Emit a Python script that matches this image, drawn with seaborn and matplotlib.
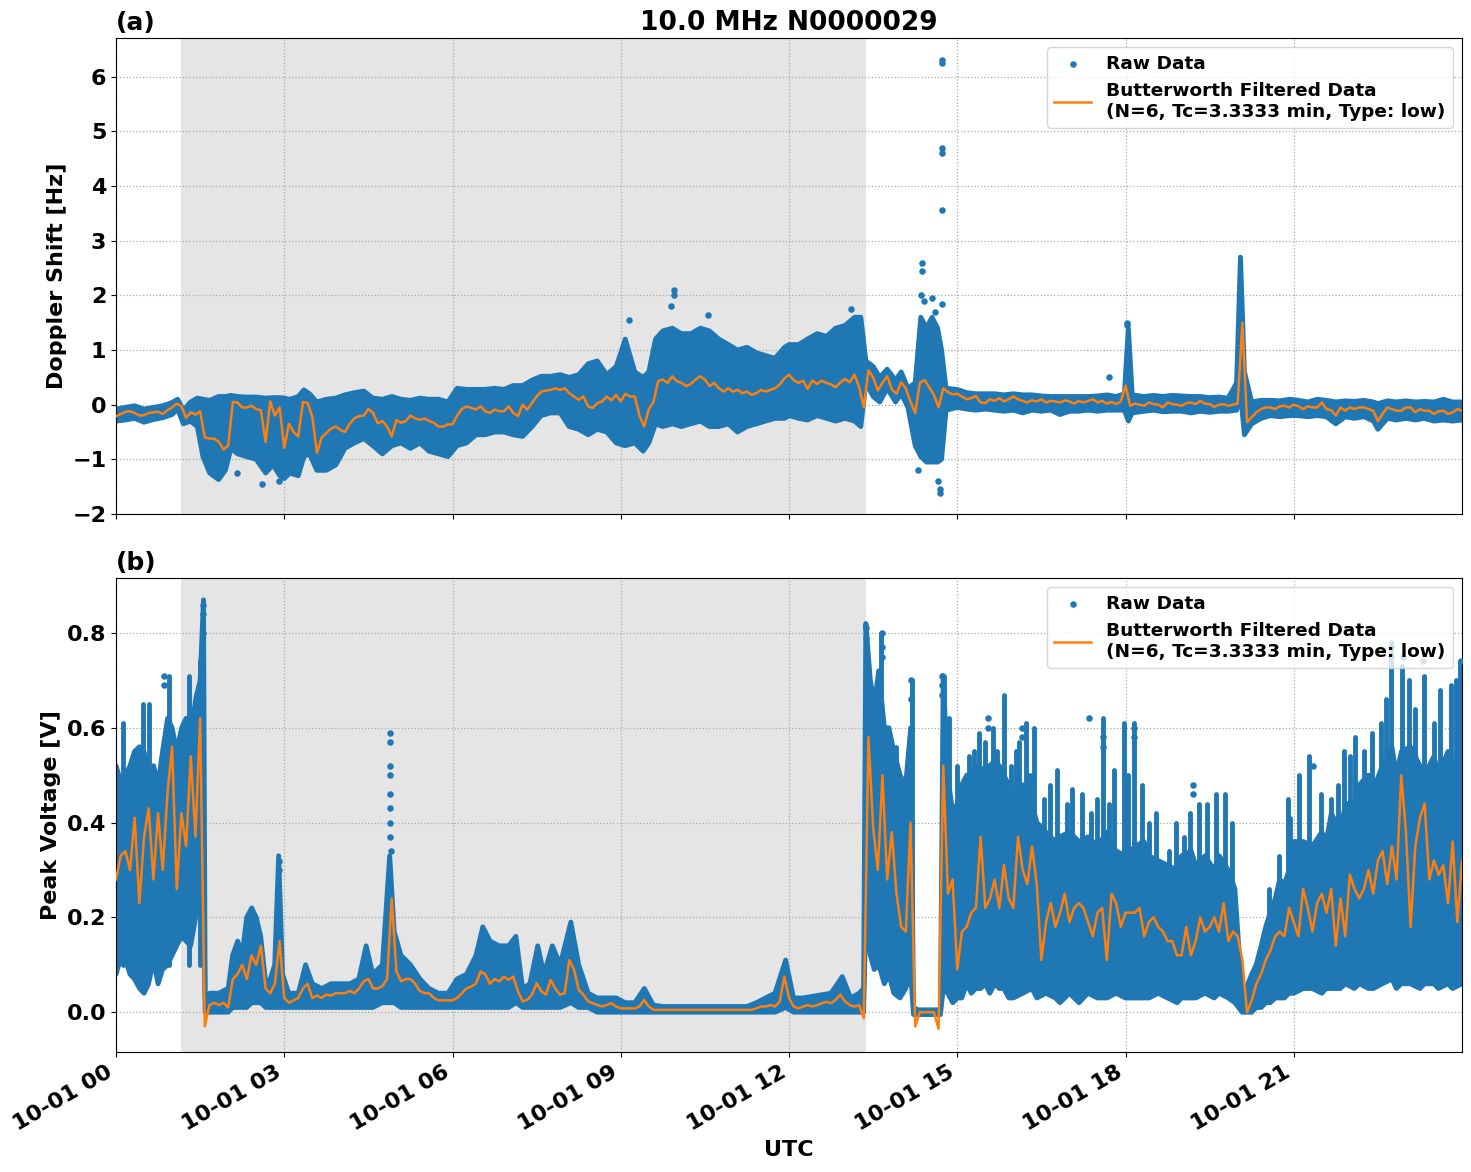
import numpy as np
import pandas as pd
import matplotlib
matplotlib.use("Agg")
import matplotlib.pyplot as plt
import matplotlib.dates as mdates
from matplotlib.ticker import FormatStrFormatter
import seaborn as sns

# ---------------- data (hours after 00:00 UTC, 1 October) ----------------
shade_hours = [1.16, 13.37]

# Doppler shift: envelope of the raw-data cloud
dop_hours = [0.00,0.17,0.33,0.50,0.67,0.83,1.00,1.10,1.20,1.33,
             1.45,1.55,1.67,1.83,1.95,2.05,2.17,2.33,2.50,2.67,
             2.80,2.92,3.00,3.10,3.25,3.35,3.45,3.58,3.75,3.92,
             4.08,4.25,4.42,4.58,4.75,4.92,5.08,5.25,5.42,5.58,
             5.75,5.92,6.08,6.25,6.42,6.58,6.75,6.92,7.08,7.25,
             7.42,7.58,7.75,7.92,8.08,8.25,8.42,8.58,8.75,8.92,
             9.08,9.25,9.40,9.50,9.62,9.75,9.92,10.08,10.25,10.42,
             10.58,10.75,10.92,11.08,11.25,11.42,11.58,11.75,11.92,12.00,
             12.17,12.33,12.50,12.67,12.83,13.00,13.17,13.28,13.37,13.50,
             13.62,13.75,13.90,14.00,14.12,14.25,14.35,14.45,14.55,14.65,
             14.72,14.80,15.00,15.17,15.33,15.50,15.67,15.83,16.00,16.17,
             16.33,16.50,16.67,16.83,17.00,17.17,17.33,17.50,17.67,17.83,
             17.98,18.05,18.12,18.33,18.50,18.67,18.83,19.00,19.17,19.33,
             19.50,19.67,19.83,19.98,20.05,20.12,20.25,20.42,20.58,20.75,
             20.92,21.08,21.25,21.42,21.58,21.75,21.92,22.08,22.25,22.42,
             22.50,22.67,22.83,23.00,23.17,23.33,23.50,23.67,23.83,24.00]
dop_low = [-0.30,-0.28,-0.25,-0.32,-0.27,-0.24,-0.18,-0.08,-0.35,-0.30,
           -0.40,-0.95,-1.25,-1.37,-1.20,-0.80,-0.90,-0.95,-1.00,-1.25,
           -1.10,-1.30,-1.35,-1.25,-1.30,-0.95,-0.90,-1.20,-1.20,-1.10,
           -0.80,-0.70,-0.62,-0.75,-0.90,-0.75,-0.70,-0.80,-0.70,-0.85,
           -0.90,-0.95,-0.75,-0.70,-0.55,-0.55,-0.50,-0.50,-0.55,-0.58,
           -0.40,-0.20,-0.15,-0.15,-0.40,-0.45,-0.55,-0.45,-0.50,-0.70,
           -0.75,-0.70,-0.85,-0.70,-0.35,-0.40,-0.35,-0.40,-0.35,-0.30,
           -0.40,-0.40,-0.35,-0.50,-0.40,-0.35,-0.30,-0.25,-0.25,-0.20,
           -0.25,-0.28,-0.20,-0.25,-0.30,-0.25,-0.30,-0.40,0.40,0.15,
           0.05,0.30,0.05,0.20,-0.05,-0.75,-0.95,-1.05,-1.05,-1.05,
           -1.00,-0.10,-0.05,-0.08,-0.10,-0.08,-0.10,-0.12,-0.10,-0.15,
           -0.10,-0.12,-0.10,-0.18,-0.12,-0.12,-0.10,-0.12,-0.10,-0.10,
           -0.10,-0.30,-0.15,-0.12,-0.10,-0.13,-0.12,-0.12,-0.15,-0.12,
           -0.14,-0.12,-0.12,-0.10,0.20,-0.55,-0.35,-0.25,-0.20,-0.22,
           -0.20,-0.20,-0.22,-0.20,-0.22,-0.35,-0.22,-0.25,-0.22,-0.30,
           -0.45,-0.25,-0.28,-0.25,-0.28,-0.25,-0.30,-0.28,-0.30,-0.28]
dop_high = [-0.08,-0.05,-0.02,-0.08,-0.05,-0.02,0.04,0.10,-0.10,0.05,
            0.12,0.10,0.08,0.15,0.15,0.17,0.15,0.14,0.14,0.12,
            0.13,0.13,0.12,0.10,0.15,0.27,0.20,0.05,0.10,0.12,
            0.18,0.22,0.25,0.12,0.10,0.15,0.10,0.08,0.12,0.10,
            0.10,0.05,0.30,0.28,0.28,0.28,0.30,0.28,0.35,0.35,
            0.45,0.52,0.52,0.55,0.50,0.55,0.75,0.80,0.55,0.70,
            1.20,0.60,0.50,0.60,1.20,1.35,1.40,1.30,1.30,1.40,
            1.35,1.20,1.10,1.00,1.05,0.95,0.90,0.85,1.05,1.10,
            1.10,1.20,1.30,1.25,1.40,1.45,1.60,1.60,0.80,0.70,
            0.50,0.65,0.45,0.60,0.30,0.40,1.60,1.40,1.60,1.40,
            1.00,0.30,0.28,0.22,0.20,0.20,0.20,0.18,0.20,0.18,
            0.18,0.16,0.15,0.15,0.15,0.15,0.15,0.16,0.18,0.15,
            0.20,1.40,0.18,0.15,0.17,0.15,0.17,0.16,0.15,0.15,
            0.13,0.14,0.12,0.40,2.70,0.60,0.05,0.08,0.08,0.07,
            0.10,0.08,0.05,0.10,0.08,0.05,0.07,0.06,0.08,0.05,
            0.02,0.07,0.05,0.07,0.05,0.06,0.05,0.10,0.05,0.05]
dop_out_hours = [14.72,14.72,14.72,14.72,14.72,14.38,14.38,14.35,14.40,14.55,14.72,14.60,
                 14.65,14.70,14.70,14.30,9.95,9.95,9.90,10.55,13.10,18.03,18.03,17.70,
                 2.60,2.90,2.15,9.15]
dop_out_vals = [6.30,6.25,4.70,4.60,3.57,2.60,2.45,2.00,1.90,1.95,1.85,1.70,
                -1.40,-1.55,-1.62,-1.20,2.10,2.00,1.80,1.65,1.75,1.50,1.45,0.50,
                -1.45,-1.40,-1.25,1.55]
# Doppler shift: Butterworth filtered series, one value per 5 minutes (00:00 ... 24:00)
dop_filt = [
    -0.21,-0.17,-0.13,-0.12,-0.15,-0.20,-0.19,-0.15,-0.14,-0.13,-0.17,-0.10,
    -0.05,0.02,-0.03,-0.24,-0.14,-0.18,-0.12,-0.60,-0.62,-0.62,-0.68,-0.82,
    -0.75,0.05,0.04,-0.05,-0.05,-0.02,-0.08,-0.10,-0.68,0.06,-0.20,-0.05,
    -0.79,-0.35,-0.50,-0.58,0.05,0.03,-0.22,-0.88,-0.60,-0.52,-0.44,-0.40,
    -0.46,-0.50,-0.35,-0.25,-0.21,-0.20,-0.08,-0.15,-0.34,-0.30,-0.40,-0.58,
    -0.28,-0.33,-0.30,-0.20,-0.25,-0.28,-0.25,-0.30,-0.33,-0.40,-0.40,-0.36,
    -0.36,-0.20,-0.08,-0.03,-0.06,-0.09,-0.03,-0.12,-0.15,-0.09,-0.12,-0.12,
    -0.03,-0.15,-0.21,0.00,-0.09,0.03,0.15,0.24,0.26,0.27,0.30,0.27,
    0.30,0.21,0.15,0.09,0.15,-0.03,-0.06,0.03,0.06,0.15,0.08,0.18,
    0.06,0.20,0.15,0.15,-0.20,-0.40,-0.08,0.05,0.43,0.46,0.40,0.52,
    0.43,0.40,0.34,0.38,0.46,0.52,0.46,0.34,0.40,0.30,0.24,0.30,
    0.24,0.27,0.21,0.24,0.18,0.21,0.27,0.24,0.27,0.30,0.37,0.48,
    0.55,0.45,0.40,0.44,0.29,0.44,0.38,0.44,0.40,0.37,0.32,0.41,
    0.47,0.41,0.55,0.32,-0.05,0.63,0.50,0.26,0.40,0.52,0.28,0.20,
    0.41,0.30,0.05,-0.15,0.40,0.45,0.32,0.18,-0.05,0.30,0.23,0.19,
    0.20,0.15,0.10,0.12,0.16,0.04,0.03,0.10,0.07,0.12,0.06,0.10,
    0.15,0.10,0.07,0.04,0.08,0.06,0.10,0.04,0.07,0.06,0.04,0.08,
    0.06,0.02,0.07,0.04,0.07,0.10,0.04,0.07,0.02,0.05,0.01,0.06,
    0.35,-0.02,0.02,0.00,-0.02,0.04,0.01,0.00,-0.05,0.04,0.01,0.00,
    -0.02,0.03,0.04,0.01,0.07,0.02,0.01,-0.04,0.00,0.01,-0.02,0.00,
    0.02,1.50,-0.32,-0.23,-0.14,-0.08,-0.05,-0.05,-0.08,-0.03,-0.02,-0.05,
    0.00,-0.03,-0.08,-0.03,-0.05,-0.05,0.04,-0.08,-0.10,-0.20,-0.05,-0.11,
    -0.05,-0.08,-0.05,-0.05,-0.08,-0.11,-0.30,-0.17,-0.05,-0.08,-0.11,-0.11,
    -0.05,-0.05,-0.14,-0.08,-0.11,-0.11,-0.17,-0.12,-0.11,-0.17,-0.14,-0.08,
    -0.11]

# Peak voltage: envelope of the raw-data cloud
pow_hours = [0.00,0.10,0.17,0.25,0.33,0.42,0.50,0.58,0.67,0.75,
             0.83,0.92,1.00,1.08,1.17,1.25,1.33,1.42,1.50,1.56,
             1.59,1.67,1.83,2.00,2.08,2.17,2.25,2.33,2.42,2.50,
             2.58,2.67,2.75,2.83,2.90,2.97,3.08,3.25,3.38,3.50,
             3.67,3.83,4.00,4.17,4.33,4.46,4.58,4.75,4.88,4.96,
             5.08,5.25,5.42,5.58,5.75,5.92,6.08,6.25,6.42,6.54,
             6.67,6.83,7.00,7.13,7.25,7.38,7.52,7.63,7.78,7.92,
             8.11,8.25,8.42,8.58,8.75,8.92,9.08,9.25,9.42,9.58,
             9.75,10.00,10.25,10.50,10.75,11.00,11.25,11.42,11.58,11.75,
             11.94,12.08,12.25,12.50,12.75,12.95,13.10,13.25,13.33,13.37,
             13.45,13.52,13.60,13.70,13.78,13.87,13.98,14.08,14.17,14.22,
             14.30,14.50,14.70,14.75,14.83,14.92,15.00,15.08,15.17,15.25,
             15.33,15.42,15.50,15.58,15.67,15.75,15.83,15.92,16.00,16.17,
             16.33,16.42,16.58,16.75,16.83,17.00,17.17,17.33,17.50,17.67,
             17.83,18.00,18.17,18.33,18.42,18.58,18.75,18.92,19.00,19.17,
             19.25,19.42,19.58,19.67,19.83,19.95,20.08,20.25,20.33,20.42,
             20.50,20.58,20.67,20.75,20.83,20.92,21.00,21.17,21.33,21.50,
             21.58,21.67,21.83,21.92,22.08,22.17,22.33,22.42,22.58,22.75,
             22.83,22.92,23.08,23.25,23.33,23.50,23.58,23.75,23.83,24.00]
pow_low = [0.08,0.12,0.11,0.08,0.07,0.05,0.04,0.06,0.11,0.06,
           0.09,0.10,0.12,0.14,0.16,0.15,0.14,0.20,0.28,0.30,
           0.00,0.00,0.00,0.00,0.01,0.01,0.01,0.01,0.02,0.02,
           0.02,0.01,0.01,0.01,0.01,0.01,0.01,0.01,0.01,0.01,
           0.01,0.01,0.01,0.01,0.01,0.01,0.01,0.02,0.02,0.02,
           0.01,0.01,0.01,0.01,0.01,0.01,0.01,0.01,0.01,0.01,
           0.01,0.01,0.01,0.02,0.01,0.01,0.01,0.01,0.01,0.01,
           0.02,0.01,0.01,0.00,0.00,0.00,0.00,0.00,0.00,0.00,
           0.00,0.00,0.00,0.00,0.00,0.00,0.00,0.00,0.00,0.00,
           0.01,0.00,0.00,0.00,0.00,0.00,0.00,0.00,0.00,0.20,
           0.12,0.09,0.10,0.06,0.08,0.04,0.03,0.05,0.08,-0.005,
           -0.005,-0.005,-0.005,0.05,0.04,0.02,0.03,0.03,0.06,0.04,
           0.05,0.05,0.06,0.04,0.06,0.05,0.05,0.03,0.03,0.04,
           0.05,0.03,0.04,0.03,0.02,0.04,0.02,0.04,0.03,0.03,
           0.04,0.03,0.03,0.03,0.03,0.04,0.03,0.02,0.03,0.03,
           0.03,0.04,0.03,0.04,0.03,0.02,0.00,0.00,0.01,0.01,
           0.02,0.02,0.03,0.03,0.03,0.04,0.04,0.05,0.05,0.04,
           0.05,0.05,0.05,0.06,0.05,0.06,0.05,0.05,0.06,0.07,
           0.05,0.06,0.06,0.05,0.06,0.06,0.05,0.06,0.05,0.06]
pow_high = [0.52,0.48,0.50,0.52,0.55,0.56,0.55,0.50,0.52,0.48,
            0.55,0.62,0.60,0.55,0.60,0.62,0.58,0.66,0.70,0.87,
            0.03,0.04,0.04,0.05,0.12,0.15,0.12,0.20,0.22,0.20,
            0.16,0.06,0.07,0.10,0.33,0.08,0.04,0.04,0.10,0.06,
            0.05,0.06,0.06,0.06,0.07,0.14,0.08,0.10,0.33,0.17,
            0.12,0.10,0.07,0.05,0.04,0.04,0.07,0.08,0.12,0.18,
            0.15,0.14,0.14,0.16,0.05,0.06,0.14,0.08,0.14,0.10,
            0.19,0.10,0.04,0.03,0.03,0.03,0.02,0.02,0.05,0.015,
            0.012,0.012,0.012,0.012,0.012,0.012,0.012,0.02,0.03,0.04,
            0.11,0.03,0.03,0.035,0.04,0.075,0.03,0.04,0.05,0.82,
            0.70,0.65,0.72,0.60,0.60,0.55,0.50,0.48,0.60,0.01,
            0.005,0.005,0.005,0.71,0.50,0.42,0.44,0.48,0.50,0.50,
            0.52,0.50,0.52,0.52,0.53,0.52,0.50,0.48,0.47,0.48,
            0.44,0.40,0.38,0.36,0.37,0.38,0.36,0.37,0.35,0.38,
            0.34,0.33,0.35,0.36,0.33,0.32,0.31,0.30,0.33,0.34,
            0.31,0.33,0.30,0.33,0.30,0.26,0.03,0.08,0.10,0.14,
            0.18,0.21,0.24,0.28,0.27,0.30,0.36,0.36,0.35,0.38,
            0.36,0.42,0.38,0.44,0.44,0.48,0.50,0.47,0.52,0.56,
            0.50,0.55,0.56,0.52,0.50,0.54,0.50,0.55,0.50,0.58]
# tall columns of raw points rising above the dense cloud
pow_streak_hours = [0.12,0.48,0.59,0.95,1.31,1.49,13.64,13.72,13.90,14.20,
                    14.76,14.85,15.12,15.21,15.39,15.63,15.83,16.04,16.22,16.37,
                    16.78,16.96,17.23,17.38,17.59,17.79,17.97,18.15,18.30,18.42,
                    18.77,19.04,19.31,19.61,19.78,20.56,20.74,20.94,21.27,21.48,
                    21.66,21.78,22.01,22.25,22.40,22.55,22.73,22.93,23.17,23.32,
                    23.50,23.80,23.97,15.00,15.30,15.50,15.70,15.95,16.10,16.30,
                    16.55,16.65,17.05,17.50,17.70,18.05,18.55,18.90,19.15,19.45,
                    19.90,20.90,21.10,21.90,22.10,22.65,23.05,23.60,23.90]
pow_streak_tops = [0.61,0.65,0.65,0.71,0.71,0.74,0.80,0.58,0.56,0.70,
                   0.71,0.62,0.42,0.54,0.59,0.60,0.67,0.55,0.61,0.60,
                   0.51,0.44,0.46,0.42,0.62,0.51,0.61,0.61,0.48,0.40,
                   0.34,0.37,0.44,0.46,0.46,0.26,0.33,0.41,0.54,0.46,
                   0.45,0.48,0.54,0.55,0.59,0.61,0.78,0.73,0.64,0.71,
                   0.61,0.69,0.74,0.52,0.55,0.57,0.55,0.52,0.57,0.50,
                   0.45,0.48,0.47,0.45,0.44,0.50,0.42,0.40,0.42,0.44,
                   0.40,0.45,0.50,0.55,0.58,0.66,0.70,0.68,0.70]
pow_out_hours = [0.85,0.85,1.55,1.55,1.56,1.53,4.88,4.88,4.88,4.88,4.89,4.89,4.89,4.89,4.90,
                 2.90,2.90,13.38,13.38,13.65,13.65,13.65,14.18,14.18,14.72,14.72,14.72,
                 15.55,15.55,16.15,16.15,17.35,17.60,17.60,18.15,18.15,19.20,19.20,
                 22.73,22.73,22.94,23.30,23.98,21.35]
pow_out_vals = [0.71,0.69,0.86,0.84,0.80,0.77,0.59,0.57,0.52,0.50,0.46,0.43,0.40,0.37,0.34,
                0.32,0.30,0.81,0.79,0.80,0.77,0.75,0.70,0.66,0.71,0.69,0.67,
                0.62,0.60,0.60,0.58,0.62,0.58,0.56,0.60,0.58,0.48,0.46,
                0.77,0.75,0.75,0.74,0.74,0.52]
# Peak voltage: Butterworth filtered series, one value per 5 minutes (00:00 ... 24:00)
pow_filt = [
    0.28,0.33,0.34,0.30,0.41,0.23,0.37,0.43,0.28,0.42,0.30,0.46,
    0.56,0.26,0.42,0.35,0.54,0.37,0.62,-0.03,0.015,0.02,0.015,0.02,
    0.01,0.07,0.08,0.10,0.07,0.12,0.10,0.14,0.05,0.04,0.06,0.15,
    0.03,0.02,0.025,0.03,0.05,0.06,0.03,0.035,0.03,0.037,0.035,0.04,
    0.04,0.04,0.045,0.04,0.05,0.065,0.07,0.05,0.05,0.055,0.07,0.24,
    0.086,0.065,0.07,0.07,0.06,0.045,0.04,0.04,0.03,0.025,0.025,0.025,
    0.025,0.03,0.04,0.05,0.054,0.06,0.086,0.08,0.06,0.07,0.065,0.075,
    0.068,0.075,0.044,0.023,0.026,0.037,0.061,0.044,0.037,0.068,0.05,0.037,
    0.04,0.11,0.09,0.047,0.037,0.023,0.019,0.015,0.012,0.015,0.019,0.012,
    0.008,0.008,0.008,0.008,0.012,0.026,0.012,0.005,0.005,0.005,0.005,0.005,
    0.005,0.005,0.005,0.005,0.005,0.005,0.005,0.005,0.005,0.005,0.005,0.005,
    0.005,0.005,0.005,0.005,0.005,0.008,0.012,0.012,0.015,0.012,0.022,0.075,
    0.03,0.012,0.008,0.012,0.015,0.012,0.015,0.019,0.022,0.019,0.026,0.037,
    0.022,0.015,0.012,0.015,-0.013,0.58,0.39,0.30,0.50,0.28,0.38,0.25,
    0.18,0.17,0.40,-0.03,0.00,0.00,0.00,0.00,-0.035,0.52,0.25,0.28,
    0.09,0.17,0.18,0.21,0.22,0.37,0.22,0.24,0.28,0.22,0.31,0.24,
    0.22,0.37,0.30,0.27,0.35,0.27,0.11,0.19,0.23,0.18,0.21,0.25,
    0.19,0.22,0.23,0.22,0.19,0.16,0.21,0.22,0.11,0.25,0.23,0.18,
    0.21,0.21,0.21,0.22,0.16,0.19,0.20,0.18,0.17,0.15,0.15,0.12,
    0.12,0.18,0.12,0.15,0.20,0.17,0.18,0.20,0.17,0.23,0.15,0.17,
    0.16,0.11,0.00,0.025,0.06,0.08,0.11,0.13,0.16,0.17,0.16,0.22,
    0.19,0.16,0.26,0.22,0.17,0.23,0.25,0.21,0.26,0.14,0.24,0.16,
    0.29,0.26,0.24,0.26,0.30,0.25,0.32,0.34,0.27,0.35,0.28,0.50,
    0.38,0.18,0.35,0.41,0.44,0.28,0.32,0.29,0.31,0.23,0.36,0.19,
    0.32]

title = "10.0 MHz N0000029"
legend_raw = "Raw Data"
legend_filt = "Butterworth Filtered Data\n(N=6, Tc=3.3333 min, Type: low)"

for arr in (dop_low, dop_high):
    assert len(arr) == len(dop_hours)
for arr in (pow_low, pow_high):
    assert len(arr) == len(pow_hours)
assert len(pow_streak_hours) == len(pow_streak_tops)
assert len(dop_filt) == 289 and len(pow_filt) == 289

# ---------------- style ----------------
plt.rcParams.update({
    "font.family": ["DejaVu Sans"],
    "font.weight": "bold",
    "axes.labelweight": "bold",
    "axes.titleweight": "bold",
})
BLUE = "#1f77b4"
ORANGE = "#ff7f0e"
base = pd.Timestamp("2021-10-01 00:00")


def to_time(hours):
    return (base + pd.to_timedelta(np.asarray(hours, dtype=float), unit="h")).to_numpy()


filt_time = pd.date_range(base, periods=289, freq="5min").to_numpy()

fig = plt.figure(figsize=(14.71, 11.72), dpi=100)
W, H = 1471.0, 1172.0
ax1 = fig.add_axes([116 / W, 1 - 514 / H, 1346 / W, 476 / H])
ax2 = fig.add_axes([116 / W, 1 - 1052 / H, 1346 / W, 474 / H], sharex=ax1)


def draw(ax, hours, low, high, filt, out_h, out_v, streak_h=None, streak_top=None, streak_base=0.0):
    t = to_time(hours)
    sh = to_time(shade_hours)
    ax.axvspan(sh[0], sh[1], color="gray", alpha=0.2, lw=0, zorder=0)
    ax.fill_between(t, low, high, color=BLUE, lw=0, zorder=2)
    for edge in (low, high):
        ax.plot(t, edge, color=BLUE, lw=3.5, solid_capstyle="round",
                solid_joinstyle="round", zorder=2)
    if streak_h is not None:
        ax.vlines(to_time(streak_h), streak_base, streak_top, color=BLUE,
                  lw=3.5, capstyle="round", zorder=2)
    sns.scatterplot(x=to_time(out_h), y=out_v, ax=ax, color=BLUE, s=22,
                    linewidth=0, zorder=3, label=legend_raw)
    sns.lineplot(x=filt_time, y=filt, ax=ax, color=ORANGE, lw=1.8, estimator=None,
                 sort=False, zorder=4, label=legend_filt)
    ax.grid(True, linestyle=":", color="#aaaaaa", lw=0.9)
    ax.set_axisbelow(True)
    handles, labels = ax.get_legend_handles_labels()
    ax.legend(handles, labels, loc="upper right", fontsize=13.3, framealpha=0.8)
    ax.tick_params(labelsize=16)


draw(ax1, dop_hours, dop_low, dop_high, dop_filt, dop_out_hours, dop_out_vals)
draw(ax2, pow_hours, pow_low, pow_high, pow_filt, pow_out_hours, pow_out_vals,
     pow_streak_hours, pow_streak_tops, 0.1)

ax1.set_ylim(-2.0, 6.71)
ax1.set_yticks(np.arange(-2, 7, 1))
ax2.set_ylim(-0.084, 0.916)
ax2.set_yticks(np.arange(0, 0.81, 0.2))
ax2.yaxis.set_major_formatter(FormatStrFormatter("%.1f"))

ax1.set_xlim(to_time([0])[0], to_time([23.9997])[0])
ax2.xaxis.set_major_locator(mdates.HourLocator(byhour=range(0, 24, 3)))
ax2.xaxis.set_major_formatter(mdates.DateFormatter("%m-%d %H"))
plt.setp(ax1.get_xticklabels(), visible=False)
for lbl in ax2.get_xticklabels():
    lbl.set_rotation(30)
    lbl.set_ha("right")

ax1.set_ylabel("Doppler Shift [Hz]", fontsize=16)
ax2.set_ylabel("Peak Voltage [V]", fontsize=16)
ax2.set_xlabel("UTC", fontsize=16)
ax1.set_xlabel("")
ax1.set_title(title, fontsize=19)
ax1.set_title("(a)", loc="left", fontsize=18)
ax2.set_title("(b)", loc="left", fontsize=18)

fig.savefig("out.png", dpi=100)
